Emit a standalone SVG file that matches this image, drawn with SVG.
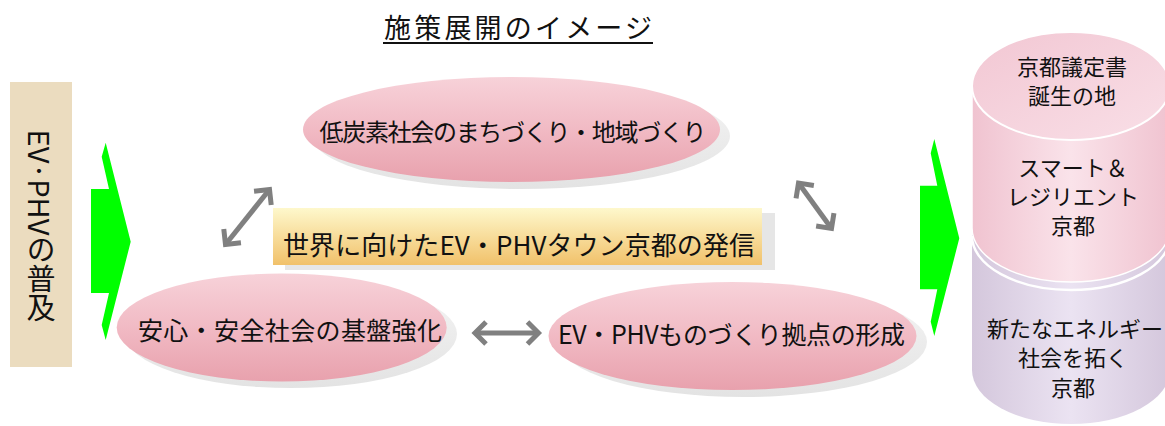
<svg xmlns="http://www.w3.org/2000/svg" width="1165" height="426" viewBox="0 0 1165 426">
<style>
.t{font-family:"Noto Sans CJK JP","Noto Sans",sans-serif;fill:#111;}
.c{text-anchor:middle;}
.arr{stroke:#808080;stroke-width:5;fill:none;}
.green{fill:#00FF00;}
.shadow{fill:url(#shadow);}
.pinkE{fill:url(#pink);}
</style>
<defs>
<linearGradient id="pink" x1="0" y1="0" x2="0" y2="1">
<stop offset="0" stop-color="#F7D2D9"/>
<stop offset="0.5" stop-color="#F1BAC4"/>
<stop offset="1" stop-color="#E8A1AD"/>
</linearGradient>
<linearGradient id="shadow" x1="0" y1="0" x2="0" y2="1">
<stop offset="0" stop-color="#F5F5F5"/>
<stop offset="1" stop-color="#E3E3E3"/>
</linearGradient>
<linearGradient id="gold" x1="0" y1="0" x2="0" y2="1">
<stop offset="0" stop-color="#FEF8CC"/>
<stop offset="1" stop-color="#F1C16A"/>
</linearGradient>
<linearGradient id="cylPink" x1="0" y1="0" x2="1" y2="0">
<stop offset="0" stop-color="#F0C3D0"/>
<stop offset="0.5" stop-color="#FAE3EA"/>
<stop offset="1" stop-color="#F0C3D0"/>
</linearGradient>
<linearGradient id="cylTop" x1="0" y1="0" x2="1" y2="1">
<stop offset="0" stop-color="#F2C7D3"/>
<stop offset="1" stop-color="#F9DFE7"/>
</linearGradient>
<linearGradient id="cylLav" x1="0" y1="0" x2="1" y2="0">
<stop offset="0" stop-color="#D4C7DC"/>
<stop offset="0.5" stop-color="#EBE3F2"/>
<stop offset="1" stop-color="#D4C7DC"/>
</linearGradient>
<marker id="chev" markerUnits="userSpaceOnUse" viewBox="-16 -16 22 32" refX="0" refY="0" markerWidth="22" markerHeight="32" orient="auto-start-reverse">
<path d="M-11,-11 L0,0 L-11,11" stroke="#808080" stroke-width="5" fill="none"/>
</marker>
</defs>

<rect width="1165" height="426" fill="#FFFFFF"/>

<g id="title">
<text class="t c" x="518" y="38" font-size="27" textLength="268" lengthAdjust="spacing">施策展開のイメージ</text>
<rect x="383" y="42" width="270" height="2" fill="#111"/>
</g>

<g id="ev-phv-spread">
<rect x="10" y="82" width="62" height="285" fill="#EBDCBF"/>
<text class="t c" x="41" y="226" font-size="29" writing-mode="vertical-rl">EV·PHVの普及</text>
</g>

<g id="green-arrow-left">
<polygon class="green" points="91,189 109,189 101.7,156.7 105.7,142.7 130.7,241.7 105.7,340 101.7,325 109,293 91,293"/>
</g>

<g id="green-arrow-right">
<polygon class="green" points="920,185.7 937.3,185.7 930.7,153.3 934.3,139 959.3,238.3 934.3,336 930.7,321.7 937.3,289.3 920,289.3"/>
</g>

<g id="low-carbon">
<ellipse class="shadow" cx="521" cy="136" rx="209" ry="53"/>
<ellipse class="pinkE" cx="511.5" cy="129.5" rx="208.5" ry="52.5"/>
<text class="t c" x="513" y="141" font-size="24" textLength="387" lengthAdjust="spacing">低炭素社会のまちづくり・地域づくり</text>
</g>

<g id="world-message">
<rect x="285" y="213" width="490" height="57" fill="#E6E6E6"/>
<rect x="273" y="208" width="489" height="57" fill="url(#gold)"/>
<text class="t c" x="519" y="255" font-size="26" textLength="472" lengthAdjust="spacing">世界に向けたEV・PHVタウン京都の発信</text>
</g>

<g id="safety">
<ellipse class="shadow" cx="291" cy="334" rx="166" ry="54"/>
<ellipse class="pinkE" cx="281.7" cy="327.5" rx="165" ry="54"/>
<text class="t c" x="290" y="340" font-size="25" textLength="304" lengthAdjust="spacing">安心・安全社会の基盤強化</text>
</g>

<g id="manufacturing">
<ellipse class="shadow" cx="743" cy="342" rx="184" ry="55"/>
<ellipse class="pinkE" cx="732.5" cy="336" rx="184" ry="54"/>
<text class="t c" x="731.5" y="344" font-size="25" textLength="347" lengthAdjust="spacing">EV・PHVものづくり拠点の形成</text>
</g>

<g id="connectors">
<line class="arr" x1="225.5" y1="244.5" x2="269.5" y2="189.5" marker-start="url(#chev)" marker-end="url(#chev)"/>
<line class="arr" x1="798.5" y1="183" x2="831.5" y2="228.5" marker-start="url(#chev)" marker-end="url(#chev)"/>
<line class="arr" x1="475" y1="333" x2="538.5" y2="333" marker-start="url(#chev)" marker-end="url(#chev)"/>
</g>

<g id="kyoto-cylinder">
<path d="M972,236 L972,370 A99,54 0 0 0 1170,370 L1170,236 A99,54 0 0 0 972,236 Z" fill="url(#cylLav)"/>
<path d="M972,236 A99,54 0 0 0 1170,236" fill="none" stroke="#FFFFFF" stroke-width="2.5"/>
<path d="M972,86 L972,228 A99,54 0 0 0 1170,228 L1170,86 Z" fill="url(#cylPink)" stroke="#FFFFFF" stroke-width="1.5"/>
<ellipse cx="1071" cy="86" rx="99" ry="54" fill="url(#cylTop)" stroke="#FFFFFF" stroke-width="2"/>
<text class="t c" x="1072" y="75" font-size="22">京都議定書</text>
<text class="t c" x="1072" y="104" font-size="22">誕生の地</text>
<text class="t c" x="1073" y="176" font-size="22">スマート＆</text>
<text class="t c" x="1073" y="205" font-size="22">レジリエント</text>
<text class="t c" x="1073" y="234" font-size="22">京都</text>
<text class="t c" x="1075" y="337" font-size="22">新たなエネルギー</text>
<text class="t c" x="1073" y="366" font-size="22">社会を拓く</text>
<text class="t c" x="1073" y="396" font-size="22">京都</text>
</g>
</svg>
